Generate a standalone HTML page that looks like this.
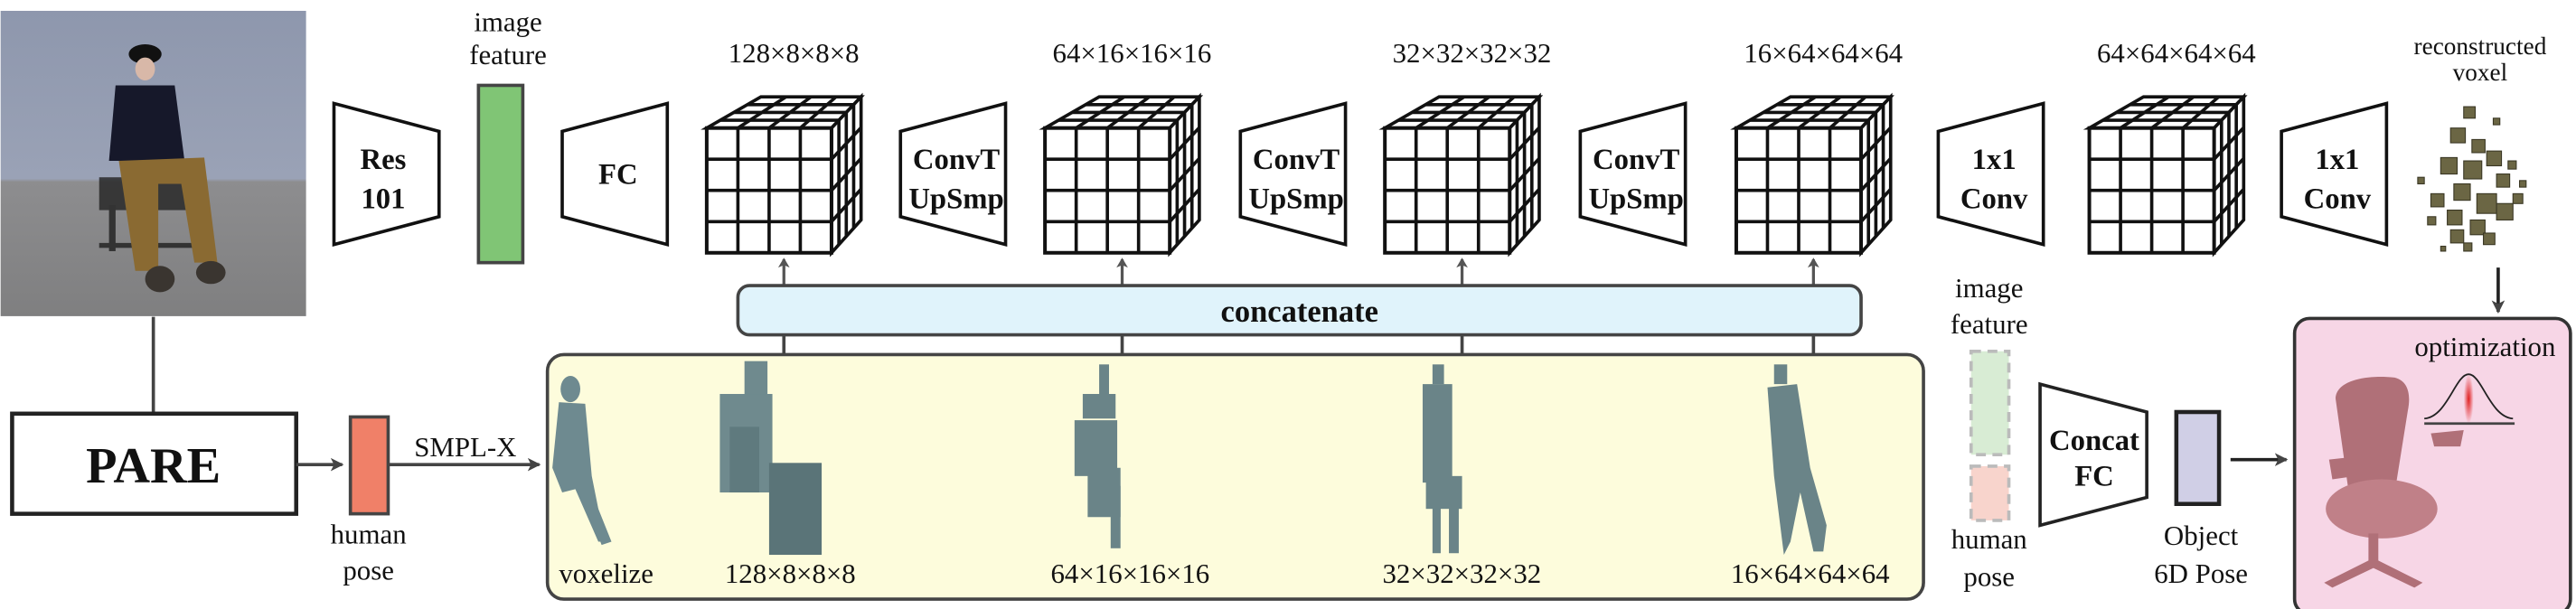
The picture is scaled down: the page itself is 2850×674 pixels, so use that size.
<!DOCTYPE html>
<html><head><meta charset="utf-8">
<style>
html,body{margin:0;padding:0;background:#fff;}
svg{display:block;}
svg text{font-family:"Liberation Serif","Times New Roman",serif;fill:#111;}
.b{font-weight:bold;}
</style></head>
<body>
<svg width="2850" height="674" viewBox="0 0 1568 371" xmlns="http://www.w3.org/2000/svg" font-family="Liberation Serif, serif">
<defs>
<linearGradient id="wall" x1="0" y1="0" x2="0" y2="1">
<stop offset="0" stop-color="#8e97ad"/><stop offset="0.55" stop-color="#9aa2b6"/><stop offset="0.56" stop-color="#8d8d8f"/><stop offset="1" stop-color="#7f7f80"/>
</linearGradient>
<radialGradient id="gauss" cx="0.5" cy="0.5" r="0.5"><stop offset="0" stop-color="#e02020"/><stop offset="1" stop-color="#e02020" stop-opacity="0"/></radialGradient>
<marker id="ah" markerWidth="8" markerHeight="8" refX="7" refY="4" orient="auto" markerUnits="userSpaceOnUse"><path d="M0,0 L8,4 L0,8 L2,4 z" fill="#444"/></marker>
<marker id="ahs" markerWidth="6" markerHeight="7" refX="5" refY="3.5" orient="auto" markerUnits="userSpaceOnUse"><path d="M0,0 L6,3.5 L0,7 L1.5,3.5 z" fill="#555"/></marker>
</defs>

<g>
<rect x="0" y="6.6" width="186" height="186" fill="url(#wall)"/>
<rect x="60" y="108" width="55" height="20" fill="#222" opacity="0.8"/>
<rect x="66" y="125" width="4" height="28" fill="#333"/>
<rect x="60" y="148" width="60" height="3" fill="#333"/>
<ellipse cx="88" cy="33" rx="10" ry="6" fill="#111"/>
<ellipse cx="88" cy="42" rx="6" ry="7" fill="#d8b8a8"/>
<path d="M70,52 L106,52 L112,98 L66,98 z" fill="#16182a"/>
<path d="M72,98 L124,96 L132,160 L118,160 L110,112 L96,112 L96,165 L82,165 z" fill="#8a6a32"/>
<ellipse cx="97" cy="170" rx="9" ry="8" fill="#3a3530"/>
<ellipse cx="128" cy="166" rx="9" ry="7" fill="#3a3530"/>
</g>
<line x1="93" y1="193" x2="93" y2="252" stroke="#444" stroke-width="2"/>

<rect x="7" y="252" width="173" height="61" fill="#fff" stroke="#222" stroke-width="2.5"/>
<text x="93" y="294" text-anchor="middle" font-size="31" class="b">PARE</text>
<line x1="180" y1="283" x2="208" y2="283" stroke="#444" stroke-width="2" marker-end="url(#ah)"/>
<rect x="213" y="254" width="23" height="59" fill="#f08068" stroke="#444" stroke-width="2"/>
<text x="224" y="331" text-anchor="middle" font-size="17"><tspan x="224">human</tspan><tspan x="224" dy="22">pose</tspan></text>
<line x1="236" y1="283" x2="328" y2="283" stroke="#444" stroke-width="2" marker-end="url(#ah)"/>
<text x="283" y="278" text-anchor="middle" font-size="17">SMPL-X</text>

<g id="topRow"></g>

<text x="309" y="19" text-anchor="middle" font-size="17"><tspan x="309">image</tspan><tspan x="309" dy="20">feature</tspan></text>
<rect x="291" y="52" width="27" height="108" fill="#80c575" stroke="#444" stroke-width="2"/>

<g id="links"></g>
<rect x="333" y="216" width="838" height="149" rx="10" fill="#fdfcdc" stroke="#444" stroke-width="2"/>
<rect x="449" y="174" width="684" height="30" rx="7" fill="#e0f3fb" stroke="#444" stroke-width="2"/>
<text x="791" y="196" text-anchor="middle" font-size="19" class="b">concatenate</text>

<g fill="#6e8a90">
<ellipse cx="347" cy="237" rx="6" ry="8"/>
<path d="M340,245 L356,246 L360,290 L368,330 L364,330 L350,298 L342,300 L336,285 z"/>
<path d="M356,290 L372,330 L366,332 L352,296 z"/>
</g>
<g fill="#6f8a8e">
<rect x="453" y="220" width="14" height="25"/>
<rect x="438" y="240" width="32" height="60"/>
<rect x="444" y="260" width="18" height="40" fill="#5f7a7e"/>
<rect x="468" y="282" width="32" height="56" fill="#5a7478"/>
</g>
<g fill="#6a8488">
<rect x="669" y="222" width="6" height="20"/>
<rect x="659" y="240" width="20" height="15"/>
<rect x="654" y="256" width="26" height="34"/>
<rect x="662" y="285" width="20" height="30"/>
<rect x="676" y="296" width="6" height="38"/>
</g>
<g fill="#6a8488">
<rect x="872" y="222" width="7" height="12"/>
<rect x="866" y="234" width="18" height="60"/>
<rect x="868" y="290" width="22" height="20"/>
<rect x="872" y="305" width="5" height="32"/>
<rect x="882" y="305" width="6" height="32"/>
</g>
<g fill="#6a8488">
<rect x="1080" y="222" width="8" height="12"/>
<path d="M1076,236 L1094,234 L1102,285 L1112,320 L1110,336 L1104,336 L1096,300 L1090,330 L1086,338 L1080,290 z"/>
</g>
<text font-size="17">
<tspan x="340" y="355">voxelize</tspan>
<tspan x="483" y="355" text-anchor="middle">128×8×8×8</tspan>
<tspan x="690" y="355" text-anchor="middle">64×16×16×16</tspan>
<tspan x="892" y="355" text-anchor="middle">32×32×32×32</tspan>
<tspan x="1102" y="355" text-anchor="middle">16×64×64×64</tspan>
</text>

<text x="1510" y="33" text-anchor="middle" font-size="15"><tspan x="1510">reconstructed</tspan><tspan x="1510" dy="16">voxel</tspan></text>
<g id="vox" fill="#6b6644" stroke="#3a3724" stroke-width="0.6"></g>
<line x1="1521" y1="163" x2="1521" y2="190" stroke="#222" stroke-width="2" marker-end="url(#ah)"/>

<text x="1211" y="181" text-anchor="middle" font-size="17"><tspan x="1211">image</tspan><tspan x="1211" dy="22">feature</tspan></text>
<rect x="1200" y="214" width="23" height="63" fill="#d8ecd4" stroke="#bbb" stroke-width="2" stroke-dasharray="6,4"/>
<rect x="1200" y="284" width="23" height="33" fill="#f8d4cc" stroke="#bbb" stroke-width="2" stroke-dasharray="6,4"/>
<text x="1211" y="334" text-anchor="middle" font-size="17"><tspan x="1211">human</tspan><tspan x="1211" dy="23">pose</tspan></text>
<path d="M1242,234 L1307,251 L1307,303 L1242,320 z" fill="#fff" stroke="#222" stroke-width="2"/>
<text x="1275" y="274" text-anchor="middle" font-size="18" class="b"><tspan x="1275">Concat</tspan><tspan x="1275" dy="22">FC</tspan></text>
<rect x="1325" y="251" width="26" height="56" fill="#d0cfe6" stroke="#222" stroke-width="2.5"/>
<text x="1340" y="332" text-anchor="middle" font-size="17"><tspan x="1340">Object</tspan><tspan x="1340" dy="23">6D Pose</tspan></text>
<line x1="1358" y1="280" x2="1392" y2="280" stroke="#222" stroke-width="2" marker-end="url(#ah)"/>

<rect x="1397" y="194" width="168" height="180" rx="9" fill="#f7d6e6" stroke="#333" stroke-width="2"/>
<text x="1513" y="217" text-anchor="middle" font-size="17">optimization</text>
<g>
<rect x="1500" y="228" width="6" height="30" fill="url(#gauss)"/>
<path d="M1476,255 C1490,254 1495,228 1503,228 C1511,228 1516,254 1530,255" fill="none" stroke="#222" stroke-width="1"/>
<line x1="1476" y1="258" x2="1531" y2="258" stroke="#444" stroke-width="1.5"/>
</g>
<g fill="#b07078">
<path d="M1422,243 C1422,232 1440,228 1458,230 C1466,232 1468,240 1466,250 L1458,300 L1430,300 z"/>
<ellipse cx="1450" cy="310" rx="34" ry="18" fill="#c08088"/>
<path d="M1418,280 L1436,278 L1434,290 L1420,292 z"/>
<path d="M1480,264 L1500,262 L1498,272 L1482,272 z"/>
<rect x="1442" y="325" width="6" height="20"/>
<path d="M1415,355 L1445,340 L1475,355 L1470,358 L1445,346 L1420,358 z"/>
</g>
</svg>
<script>
const SVGNS='http://www.w3.org/2000/svg';
function mk(tag,attrs,parent){const e=document.createElementNS(SVGNS,tag);for(const k in attrs)e.setAttribute(k,attrs[k]);parent.appendChild(e);return e;}
const topRow=document.getElementById('topRow');
const cubeX=[430,636,843,1057,1272];
const cubeLabels=['128×8×8×8','64×16×16×16','32×32×32×32','16×64×64×64','64×64×64×64'];
cubeX.forEach((x0,i)=>{
  const g=mk('g',{},topRow);
  
  
  const fx0=x0,fx1=x0+76,fy0=78,fy1=154,bx0=x0+33,bx1=x0+94,by0=59,byb=134;
  const st={fill:'none',stroke:'#111','stroke-width':2};
  mk('path',{d:`M${fx0},${fy0} L${bx0},${by0} L${bx1},${by0} L${fx1},${fy0} z`,fill:'#fff',stroke:'#111','stroke-width':2},g);
  mk('path',{d:`M${fx1},${fy0} L${bx1},${by0} L${bx1},${byb} L${fx1},${fy1} z`,fill:'#fff',stroke:'#111','stroke-width':2},g);
  mk('rect',{x:fx0,y:fy0,width:76,height:76,fill:'#fff',stroke:'#111','stroke-width':2.2},g);
  for(let k=1;k<4;k++){
    const t=k/4;
    mk('line',Object.assign({x1:fx0+76*t,y1:fy0,x2:fx0+76*t,y2:fy1},st),g);
    mk('line',Object.assign({x1:fx0,y1:fy0+76*t,x2:fx1,y2:fy0+76*t},st),g);
    mk('line',Object.assign({x1:fx0+76*t,y1:fy0,x2:bx0+61*t,y2:by0},st),g);
    mk('line',Object.assign({x1:fx0+(bx0-fx0)*t,y1:fy0+(by0-fy0)*t,x2:fx1+(bx1-fx1)*t,y2:fy0+(by0-fy0)*t},st),g);
    mk('line',Object.assign({x1:fx1+(bx1-fx1)*t,y1:fy0+(by0-fy0)*t,x2:fx1+(bx1-fx1)*t,y2:fy1+(byb-fy1)*t},st),g);
    mk('line',Object.assign({x1:fx1,y1:fy0+76*t,x2:bx1,y2:by0+75*t},st),g);
  }
  const tx=mk('text',{x:x0+53,y:38,'text-anchor':'middle','font-size':17},g);
  tx.textContent=cubeLabels[i];
});
const traps=[[203,1,'Res','101'],[342,0,'FC',''],[548,0,'ConvT','UpSmp'],[755,0,'ConvT','UpSmp'],[962,0,'ConvT','UpSmp'],[1180,0,'1x1','Conv'],[1389,0,'1x1','Conv']];
traps.forEach(([x,shrink,a,b])=>{
  const g=mk('g',{},topRow);
  
  
  const w=64;
  const d=shrink?`M${x},63 L${x+w},80 L${x+w},132 L${x},149 z`:`M${x},80 L${x+w},63 L${x+w},149 L${x},132 z`;
  mk('path',{d:d,fill:'#fff',stroke:'#111','stroke-width':2},g);
  const cx=x+w/2+(shrink?-2:2);
  const t=mk('text',{x:cx,'text-anchor':'middle','font-size':18,'font-weight':'bold',y:b?103:112},g);
  const s1=mk('tspan',{x:cx},t);s1.textContent=a;
  if(b){const s2=mk('tspan',{x:cx,dy:24},t);s2.textContent=b;}
});
const links=document.getElementById('links');
cubeX.slice(0,4).forEach(x=>{
  const lx=x+47;
  const l=mk('line',{x1:lx,y1:216,x2:lx,y2:204,stroke:'#444','stroke-width':2},links);
  
  
  const a=mk('line',{x1:lx,y1:174,x2:lx,y2:158,stroke:'#555','stroke-width':1.8,'marker-end':'url(#ahs)'},links);
  
  
});
const vox=document.getElementById('vox');
const cubes=[[1500,65,7],[1492,78,9],[1505,85,8],[1486,96,10],[1500,98,11],[1514,92,9],[1520,106,8],[1494,112,10],[1508,118,12],[1480,118,8],[1490,128,9],[1520,124,10],[1504,134,9],[1492,140,8],[1512,142,7],[1530,118,6],[1478,132,5],[1527,98,5],[1472,108,4],[1518,72,4],[1534,110,4],[1500,148,5],[1486,150,3]];
cubes.forEach(([x,y,s])=>{
  const r=mk('rect',{x:x,y:y,width:s,height:s},vox);
  
  
});
</script>
</body></html>
